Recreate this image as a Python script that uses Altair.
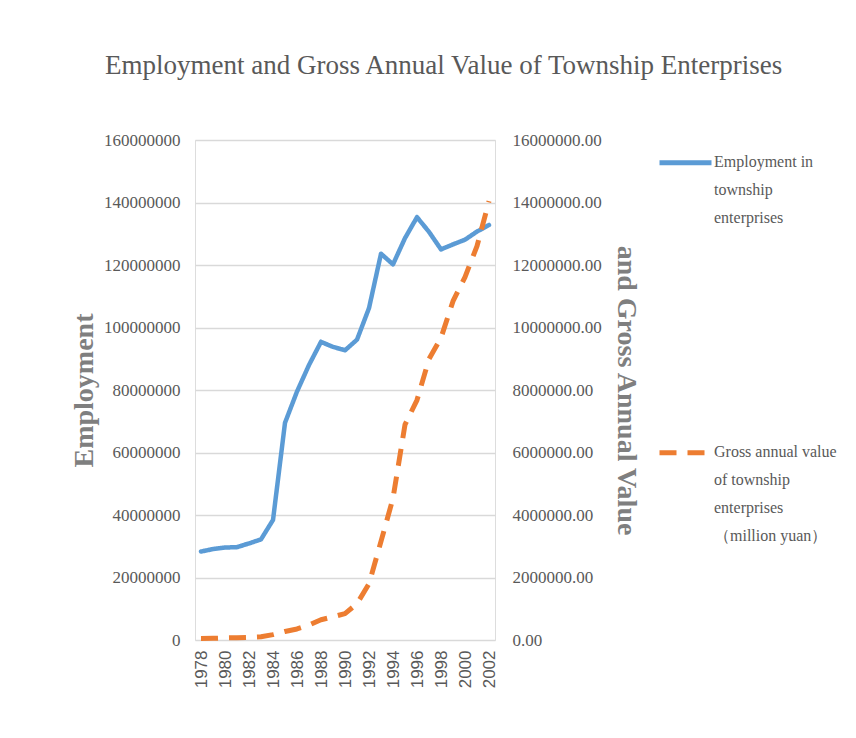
import altair as alt
import pandas as pd

years = list(range(1978, 2003))
employment = [28.3, 29.1, 29.6, 29.7, 30.9, 32.2, 38.4, 69.5, 79.5, 88.0, 95.4, 93.8, 92.7,
              96.1, 106.2, 123.6, 120.2, 128.6, 135.3, 130.6, 125.0, 126.6, 128.1, 130.7, 132.8]
employment = [v * 1e6 for v in employment]
gross = [49300, 54800, 65700, 74500, 85300, 101700, 171000, 272800, 354100, 476400, 649600,
         742800, 846200, 1162200, 1797600, 3154100, 4537800, 6891500, 7677800, 8990100,
         9669400, 10842600, 11615000, 12604700, 14043500]

emp_name = "Employment in township enterprises"
gross_name = "Gross annual value of township enterprises (million yuan)"
emp_lines = ["Employment in", "township", "enterprises"]
gross_lines = ["Gross annual value", "of township", "enterprises", " （million yuan）"]
label_years = list(range(1978, 2003, 2))
left_ticks = list(range(0, 160000001, 20000000))
right_ticks = list(range(0, 16000001, 2000000))

df_emp = pd.DataFrame({"year": years, "value": employment, "series": emp_name})
df_gross = pd.DataFrame({"year": years, "value": gross, "series": gross_name})

def js_list(lines):
    return "[" + ",".join("'" + s + "'" for s in lines) + "]"

label_expr = f"datum.label == '{emp_name}' ? {js_list(emp_lines)} : {js_list(gross_lines)}"

serif = "Liberation Serif"
gray = "#595959"

color = alt.Color(
    "series:N",
    scale=alt.Scale(domain=[emp_name, gross_name], range=["#5B9BD5", "#ED7D31"]),
    legend=alt.Legend(
        title=None, orient="none", legendX=462, legendY=-15,
        symbolType="M-1,0.36L1,0.36",
        symbolSize=2704, symbolStrokeWidth=5, labelFont=serif, labelFontSize=16,
        labelColor=gray, labelExpr=label_expr, labelOffset=0, rowPadding=189,
        labelBaseline="top", labelLimit=300, padding=0,
    ),
)
dash = alt.StrokeDash(
    "series:N",
    scale=alt.Scale(domain=[emp_name, gross_name], range=[[1, 0], [17, 11]]),
    legend=None,
)

x = alt.X(
    "year:O", title=None,
    axis=alt.Axis(values=label_years, labelAngle=-90, labelFont="Liberation Sans",
                  labelFontSize=17, labelColor=gray, labelPadding=10, ticks=False,
                  domain=False, grid=False),
)

emp_line = alt.Chart(df_emp).mark_line(strokeWidth=4.5, strokeCap="round", strokeJoin="round").encode(
    x=x,
    y=alt.Y("value:Q", title="Employment",
            scale=alt.Scale(domain=[0, 160000000]),
            axis=alt.Axis(orient="left", values=left_ticks, labelOverlap=False,
                          format="d", labelFont=serif, labelFontSize=17, labelColor=gray,
                          labelPadding=15, ticks=False, domain=False, grid=True,
                          gridColor="#d9d9d9", gridWidth=1.5,
                          titleFont=serif, titleFontSize=28, titleFontWeight="bold",
                          titleColor="#7f7f7f", titlePadding=5)),
    color=color,
    strokeDash=dash,
)

gross_line = alt.Chart(df_gross).mark_line(strokeWidth=5, strokeCap="butt", strokeJoin="round").encode(
    x=x,
    y=alt.Y("value:Q", title="and Gross Annual Value",
            scale=alt.Scale(domain=[0, 16000000]),
            axis=alt.Axis(orient="right", values=right_ticks, labelOverlap=False,
                          format=".2f", labelFont=serif, labelFontSize=17, labelColor=gray,
                          labelPadding=17, ticks=False, domain=False, grid=False,
                          titleFont=serif, titleFontSize=28, titleFontWeight="bold",
                          titleColor="#7f7f7f", titlePadding=10)),
    color=color,
    strokeDash=dash,
)

chart = alt.layer(emp_line, gross_line).resolve_scale(y="independent").properties(
    width=300, height=500,
    title=alt.TitleParams("Employment and Gross Annual Value of Township Enterprises",
                          font=serif, fontSize=27, fontWeight="normal", color=gray,
                          anchor="start", frame="group", dx=-90, offset=24,
                          baseline="alphabetic"),
    autosize=alt.AutoSizeParams(type="none"),
    padding={"left": 187, "top": 132, "right": 350, "bottom": 80},
).configure_view(stroke=None).configure(
    style={"guide-label": {"lineHeight": 28}}
)

chart.save("out.html", embed_options={"renderer": "svg", "actions": False})
